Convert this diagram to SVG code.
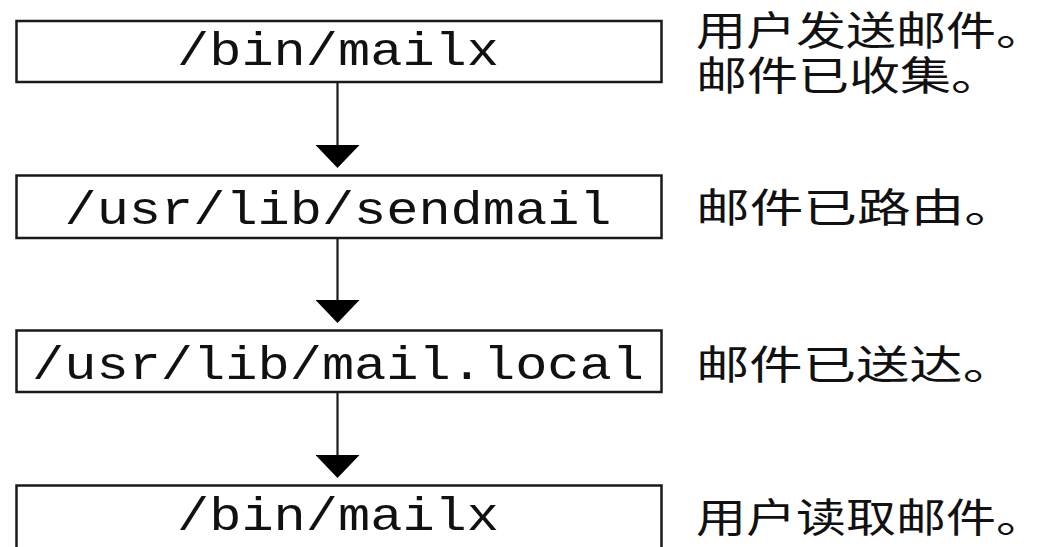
<svg xmlns="http://www.w3.org/2000/svg" width="1047" height="547" viewBox="0 0 1047 547">
  <style>
    .box { fill: #ffffff; stroke: #1a1a1a; stroke-width: 2.5; }
    .mono { font-family: "Liberation Mono", "DejaVu Sans Mono", monospace; font-size: 46px; fill: #111111; text-anchor: middle; }
    .cjk { font-family: "Noto Sans CJK SC", "Noto Sans", sans-serif; font-size: 40px; fill: #111111; }
    .conn { stroke: #1a1a1a; stroke-width: 2.2; fill: none; marker-end: url(#arrow); }
  </style>
  <defs>
    <marker id="arrow" viewBox="0 0 23 44" refX="15" refY="22" markerWidth="23" markerHeight="44" markerUnits="userSpaceOnUse" orient="auto">
      <path d="M0,0 L23,22 L0,44 Z" fill="#000000"/>
    </marker>
  </defs>
  <rect width="1047" height="547" fill="#ffffff"/>

  <g id="connectors">
    <path class="conn" d="M337.5,82 L337.5,160"/>
    <path class="conn" d="M337.5,238 L337.5,315"/>
    <path class="conn" d="M337.5,392 L337.5,470"/>
  </g>

  <g id="node-mailx-send">
    <rect class="box" x="16.5" y="21" width="645" height="61"/>
    <text class="mono" x="338" y="65" textLength="322" lengthAdjust="spacingAndGlyphs">/bin/mailx</text>
  </g>
  <g id="node-sendmail">
    <rect class="box" x="16.5" y="175.5" width="645" height="62.5"/>
    <text class="mono" x="338" y="224" textLength="547" lengthAdjust="spacingAndGlyphs">/usr/lib/sendmail</text>
  </g>
  <g id="node-mail-local">
    <rect class="box" x="16.5" y="330.5" width="645" height="61.5"/>
    <text class="mono" x="338" y="379" textLength="612" lengthAdjust="spacingAndGlyphs">/usr/lib/mail.local</text>
  </g>
  <g id="node-mailx-read">
    <rect class="box" x="16.5" y="485.5" width="645" height="80"/>
    <text class="mono" x="338" y="530" textLength="322" lengthAdjust="spacingAndGlyphs">/bin/mailx</text>
  </g>

  <g id="labels">
    <text class="cjk"><tspan x="696" y="45" textLength="350" lengthAdjust="spacingAndGlyphs">用户发送邮件。</tspan><tspan x="696" y="90" textLength="306" lengthAdjust="spacingAndGlyphs">邮件已收集。</tspan></text>
    <text class="cjk" x="696" y="222" textLength="322" lengthAdjust="spacingAndGlyphs">邮件已路由。</text>
    <text class="cjk" x="696" y="379" textLength="320" lengthAdjust="spacingAndGlyphs">邮件已送达。</text>
    <text class="cjk" x="696" y="532" textLength="350" lengthAdjust="spacingAndGlyphs">用户读取邮件。</text>
  </g>
</svg>
